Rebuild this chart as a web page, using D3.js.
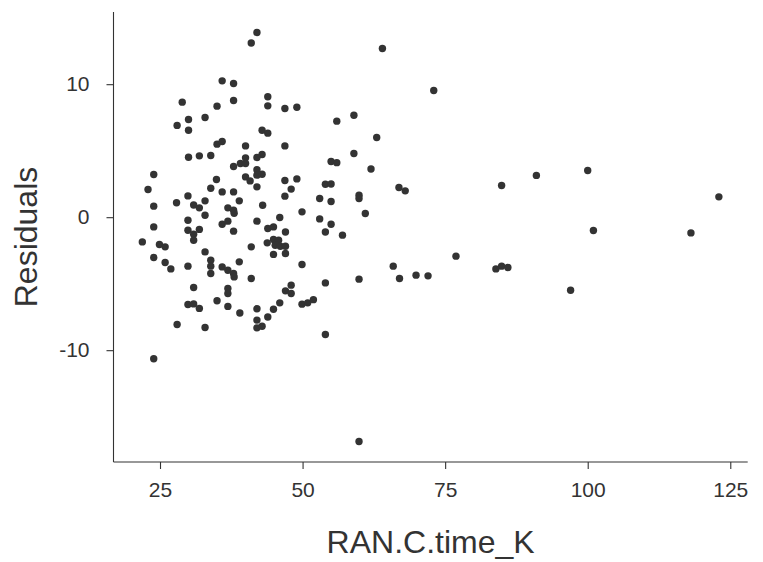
<!DOCTYPE html>
<html>
<head>
<meta charset="utf-8">
<script src="https://cdn.jsdelivr.net/npm/d3@7"></script>
<style>
  html, body { margin: 0; padding: 0; background: #fff; }
  svg text { font-family: "Liberation Sans", Arial, sans-serif; }
</style>
</head>
<body>
<svg id="chart" width="763" height="562"></svg>
<script>
// ---- data ----
const timeK = [
  42.0, 41.0, 35.9, 37.9, 28.9, 35.0, 37.9, 43.9, 43.9, 30.0,
  32.9, 28.0, 30.0, 42.9, 43.9, 35.0, 35.9, 40.0, 30.0, 31.9,
  33.9, 40.0, 42.9, 42.0, 37.9, 39.1, 40.0, 42.0, 23.9, 22.9,
  23.9, 23.9, 21.9, 24.9, 25.9, 23.9, 25.9, 26.9, 29.9, 30.9,
  29.9, 30.9, 31.9, 35.0, 36.9, 29.9, 27.9, 30.9, 31.9, 32.9,
  32.9, 33.9, 34.9, 35.9, 37.9, 38.9, 36.9, 37.9, 38.0, 29.9,
  29.9, 30.9, 31.9, 30.9, 35.9, 36.9, 37.9, 32.9, 33.9, 33.9,
  33.9, 35.9, 36.9, 37.9, 38.0, 38.9, 41.0, 36.9, 36.9, 41.0,
  42.0, 43.0, 43.9, 43.8, 40.0, 40.8, 42.0, 42.0, 42.9, 39.0,
  42.0, 42.0, 42.0, 42.9, 43.9, 28.0, 32.9, 23.9, 64.0, 73.0,
  46.9, 49.0, 56.0, 59.0, 46.9, 63.0, 59.0, 55.0, 56.0, 62.0,
  46.9, 49.0, 48.0, 46.9, 54.0, 55.0, 66.9, 68.0, 53.0, 55.0,
  59.9, 59.9, 49.9, 61.0, 53.0, 55.0, 46.0, 54.0, 57.0, 44.9,
  47.0, 44.9, 45.8, 45.2, 46.1, 47.0, 44.9, 47.0, 76.9, 49.9,
  65.9, 67.0, 69.9, 72.0, 59.9, 54.0, 48.0, 47.0, 48.0, 49.9,
  50.9, 51.9, 46.0, 44.9, 54.0, 59.9, 84.9, 91.0, 100.0, 123.0,
  101.0, 118.1, 83.9, 84.9, 86.0, 97.0
];
const residuals = [
  13.89, 13.10, 10.25, 10.05, 8.65, 8.35, 8.77, 9.05, 8.37, 7.35,
  7.50, 6.90, 6.54, 6.54, 6.32, 5.49, 5.69, 5.36, 4.51, 4.61,
  4.64, 4.46, 4.71, 4.49, 3.81, 4.04, 4.04, 3.57, 3.21, 2.08,
  0.83, -0.73, -1.86, -2.05, -2.23, -3.03, -3.41, -3.89, -3.68, -5.29,
  -6.56, -6.52, -6.86, -6.28, -6.71, 1.60, 1.08, 0.92, 0.70, 1.23,
  0.15, 2.18, 2.83, 1.90, 1.90, 1.23, 0.70, 0.53, 0.30, -0.23,
  -0.98, -1.28, -0.92, -1.73, -0.53, -0.30, -1.05, -2.61, -3.23, -3.68,
  -4.23, -3.74, -3.99, -4.23, -4.49, -3.36, -4.61, -5.36, -5.74, -2.23,
  -0.30, 0.90, -0.85, -1.93, 3.03, 2.73, 2.28, 3.16, 3.23, -7.20,
  -6.89, -7.74, -8.32, -8.20, -7.50, -8.07, -8.29, -10.65, 12.68, 9.53,
  8.17, 8.27, 7.22, 7.67, 5.36, 5.99, 4.79, 4.19, 4.10, 3.62,
  2.76, 2.88, 2.11, 1.58, 2.48, 2.50, 2.23, 1.98, 1.41, 1.18,
  1.65, 1.41, 0.40, 0.28, -0.13, -0.53, -0.02, -1.11, -1.35, -0.73,
  -1.11, -1.68, -1.73, -2.11, -2.18, -2.18, -2.80, -2.73, -2.93, -3.56,
  -3.68, -4.61, -4.36, -4.41, -4.66, -4.94, -5.11, -5.54, -5.74, -6.54,
  -6.44, -6.20, -6.44, -6.92, -8.82, -16.87, 2.38, 3.14, 3.51, 1.53,
  -1.00, -1.18, -3.89, -3.68, -3.78, -5.49
];
const xTicks = [25, 50, 75, 100, 125];
const yTicks = [-10, 0, 10];
const xTitle = "RAN.C.time_K";
const yTitle = "Residuals";

// ---- layout ----
const svg = d3.select("#chart");
const panel = { left: 113.5, right: 747.7, top: 12, bottom: 462 };
const ink = "#333333";

function expand(ext, f) {
  const r = ext[1] - ext[0];
  return [ext[0] - r * f, ext[1] + r * f];
}
const x = d3.scaleLinear().domain(expand(d3.extent(timeK), 0.05)).range([panel.left, panel.right]);
const y = d3.scaleLinear().domain(expand(d3.extent(residuals), 0.05)).range([panel.bottom, panel.top]);

const points = timeK.map((t, i) => ({ t, r: residuals[i] }));

svg.append("g").selectAll("circle").data(points).join("circle")
  .attr("cx", d => x(d.t))
  .attr("cy", d => y(d.r))
  .attr("r", 3.7)
  .attr("fill", ink);

const fmt = d => String(d);

// x axis
const xAxis = svg.append("g")
  .attr("transform", `translate(0,${panel.bottom})`)
  .call(d3.axisBottom(x).tickValues(xTicks).tickSize(7).tickPadding(13).tickFormat(fmt));
xAxis.select(".domain").attr("stroke", ink).attr("stroke-width", 1.1)
  .attr("d", `M${panel.left},0H${panel.right}`);
xAxis.selectAll(".tick line").attr("stroke", ink).attr("stroke-width", 1.1);
xAxis.selectAll(".tick text").attr("fill", ink).attr("font-size", 21);

// y axis
const yAxis = svg.append("g")
  .attr("transform", `translate(${panel.left},0)`)
  .call(d3.axisLeft(y).tickValues(yTicks).tickSize(7).tickPadding(17).tickFormat(fmt));
yAxis.select(".domain").attr("stroke", ink).attr("stroke-width", 1.1)
  .attr("d", `M0,${panel.top}V${panel.bottom}`);
yAxis.selectAll(".tick line").attr("stroke", ink).attr("stroke-width", 1.1);
yAxis.selectAll(".tick text").attr("fill", ink).attr("font-size", 21);

// titles
svg.append("text")
  .attr("x", (panel.left + panel.right) / 2)
  .attr("y", 553)
  .attr("text-anchor", "middle")
  .attr("font-size", 32)
  .attr("fill", ink)
  .text(xTitle);

svg.append("text")
  .attr("transform", `translate(37,${(panel.top + panel.bottom) / 2}) rotate(-90)`)
  .attr("text-anchor", "middle")
  .attr("font-size", 32)
  .attr("fill", ink)
  .text(yTitle);
</script>
</body>
</html>
